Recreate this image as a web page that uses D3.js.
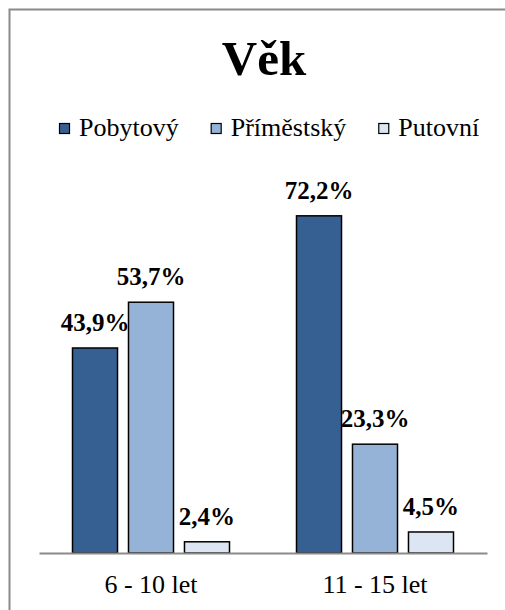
<!DOCTYPE html>
<html>
<head>
<meta charset="utf-8">
<script src="https://cdn.jsdelivr.net/npm/d3@7"></script>
<style>
	body { margin: 0; background: #fff; }
</style>
</head>
<body>
<div id="wrapper"></div>
<script>
var width = 505, height = 610;
var serif = "'Liberation Serif'";

// data
var categories = ["6 - 10 let", "11 - 15 let"];
var seriesNames = ["Pobytový", "Příměstský", "Putovní"];
var pobytovy = [43.9, 72.2];
var primestsky = [53.7, 23.3];
var putovni = [2.4, 4.5];
var seriesColors = ["#376092", "#95B3D7", "#DCE6F2"];

var seriesValues = [pobytovy, primestsky, putovni];

var svg = d3.select("#wrapper").append("svg")
	.attr("width", width)
	.attr("height", height);

// chart border (right and bottom fall outside the picture)
svg.append("path")
	.attr("d", "M 9.5 " + height + " L 9.5 9.5 L " + (width + 5) + " 9.5")
	.attr("fill", "none")
	.attr("stroke", "#8a8a8a")
	.attr("stroke-width", 2);

// title
svg.append("text")
	.attr("x", 264)
	.attr("y", 75)
	.attr("text-anchor", "middle")
	.style("font-family", serif)
	.style("font-size", "49px")
	.style("font-weight", "bold")
	.text("Věk");

// legend
var legend = svg.append("g").attr("class", "legend");
var lx = 59;
seriesNames.forEach(function(name, i){
	legend.append("rect")
		.attr("x", lx + 0.5)
		.attr("y", 123.5)
		.attr("width", 10)
		.attr("height", 10)
		.attr("fill", seriesColors[i])
		.attr("stroke", "#000")
		.attr("stroke-width", 1.2);
	var t = legend.append("text")
		.attr("x", lx + 20)
		.attr("y", 136)
		.style("font-family", serif)
		.style("font-size", "26px")
		.text(name);
	lx += 20 + t.node().getComputedTextLength() + 32;
});

// scales
var x0 = d3.scaleBand()
	.domain(categories)
	.range([39, 487])
	.padding(0);

var x1 = d3.scaleBand()
	.domain(seriesNames)
	.range([33.5, x0.bandwidth() - 33.5])
	.paddingInner(0.196)
	.paddingOuter(0);

var y = d3.scaleLinear()
	.domain([0, 80])
	.range([553, 179.4]);

var rows = [];
categories.forEach(function(cat, ci){
	seriesNames.forEach(function(s, si){
		rows.push({cat: cat, series: s, value: seriesValues[si][ci], color: seriesColors[si]});
	});
});

// bars
svg.append("g").selectAll("rect")
	.data(rows)
	.enter().append("rect")
	.attr("x", function(d){ return x0(d.cat) + x1(d.series); })
	.attr("y", function(d){ return y(d.value); })
	.attr("width", x1.bandwidth())
	.attr("height", function(d){ return y(0) - y(d.value); })
	.attr("fill", function(d){ return d.color; })
	.attr("stroke", "#000")
	.attr("stroke-width", 1.5);

// value labels
svg.append("g").selectAll("text")
	.data(rows)
	.enter().append("text")
	.attr("x", function(d){ return x0(d.cat) + x1(d.series) + x1.bandwidth() / 2; })
	.attr("y", function(d){ return y(d.value) - 17; })
	.attr("text-anchor", "middle")
	.style("font-family", serif)
	.style("font-size", "25px")
	.style("font-weight", "bold")
	.text(function(d){ return d.value.toFixed(1).replace(".", ",") + "%"; });

// x axis: domain line + category labels
var xAxis = svg.append("g")
	.attr("transform", "translate(0," + y(0) + ")")
	.call(d3.axisBottom(x0).tickSize(0).tickPadding(40));
xAxis.select(".domain").attr("stroke", "#8a8a8a").attr("stroke-width", 2);
xAxis.selectAll("text")
	.style("font-family", serif)
	.style("font-size", "26px")
	.attr("fill", "#000")
	.attr("dy", "0");
</script>
</body>
</html>
